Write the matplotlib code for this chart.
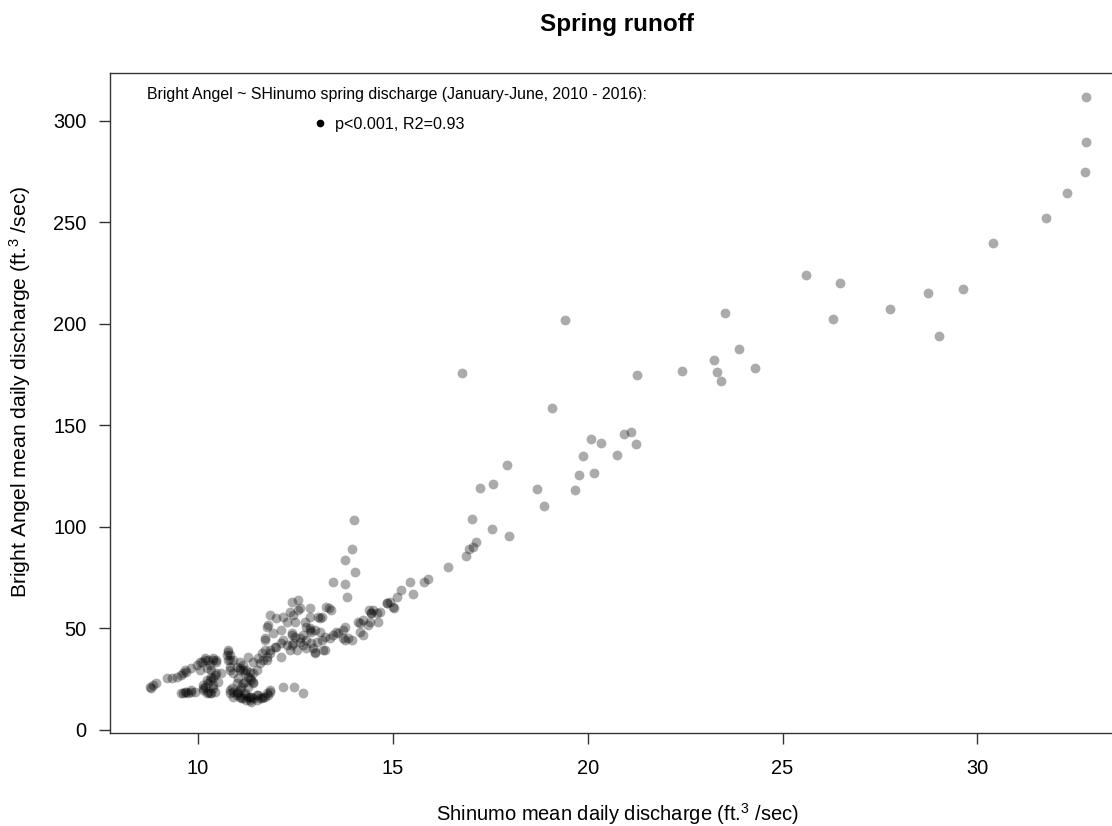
import matplotlib
matplotlib.use("Agg")
import matplotlib.pyplot as plt
from matplotlib.lines import Line2D

plt.rcParams['font.family'] = ['Liberation Sans', 'DejaVu Sans']
plt.rcParams['mathtext.fontset'] = 'custom'
plt.rcParams['mathtext.rm'] = 'Liberation Sans'
plt.rcParams['mathtext.it'] = 'Liberation Sans'

# Shinumo (x) vs Bright Angel (y) mean daily discharge, ft3/sec
# high-flow, sparse points
shinumo_high = [32.79, 32.79, 32.77, 32.30, 31.77, 30.39, 29.62, 28.74, 29.00, 25.60,
                26.48, 27.75, 26.28, 23.51, 23.88, 23.24, 23.31, 24.30, 23.41, 22.42,
                21.27, 16.77, 19.41, 19.09, 20.08, 20.34, 20.93, 21.11, 21.23, 19.87,
                20.74, 19.78, 20.16, 19.68, 18.69, 18.88, 17.93, 17.23, 17.56, 17.03,
                17.53, 17.99, 17.13, 17.06, 16.96, 16.87, 14.00, 13.96, 13.77, 14.03,
                13.47, 13.78, 13.82, 16.41, 15.45, 15.51, 15.79, 15.91, 15.20, 15.11,
                14.99, 14.86, 15.03, 14.84]
bright_high = [311.5, 289.3, 274.5, 264.3, 251.9, 239.6, 216.9, 214.9, 193.9, 223.8,
               220.0, 207.2, 202.1, 205.4, 187.6, 181.9, 176.2, 178.1, 171.7, 176.8,
               174.8, 175.5, 201.8, 158.3, 143.2, 141.2, 145.6, 146.5, 140.5, 134.8,
               135.4, 125.4, 126.6, 118.2, 118.4, 110.1, 130.3, 118.9, 120.8, 103.7,
               98.7, 95.5, 92.6, 90.1, 88.8, 85.5, 103.1, 89.1, 83.5, 77.6,
               72.7, 71.9, 65.2, 80.1, 72.7, 66.9, 72.6, 74.0, 68.6, 65.5,
               60.5, 62.2, 60.0, 62.2]

# mid cluster (12-15)
shinumo_mid = [14.39, 14.43, 14.58, 14.62, 14.24, 14.11, 14.37, 14.15, 14.24, 13.85,
               13.77, 13.94, 13.72, 13.55, 13.36, 13.29, 13.42, 13.14, 13.17, 12.87,
               12.87, 12.74, 12.78, 12.87, 12.57, 12.40, 12.57, 12.44, 12.48, 11.84,
               12.01, 12.18, 12.27, 12.14, 11.76, 14.45, 14.50, 14.67, 14.92, 14.41,
               14.15, 13.77, 13.72, 12.91, 13.25, 13.00, 12.78, 13.08, 12.61, 12.61,
               12.40, 11.97, 11.71, 12.40, 11.80, 12.36,
               12.40, 12.48, 12.61, 12.70, 12.78, 12.91, 13.04, 13.17, 13.25, 13.38,
               13.47, 13.60, 13.00, 13.12, 12.87, 12.44, 12.53, 12.70, 12.35, 12.14,
               12.01, 11.84, 11.71, 11.76, 12.95, 13.21, 13.00, 11.93, 12.18, 12.14,
               12.27]
bright_mid = [58.9, 57.3, 57.3, 53.2, 54.0, 53.2, 51.5, 48.2, 46.6, 45.0,
              44.1, 44.1, 49.1, 48.2, 59.8, 60.5, 58.9, 54.8, 55.6, 59.8,
              55.6, 53.2, 50.7, 49.1, 63.8, 63.0, 58.9, 56.5, 53.2, 56.5,
              54.8, 55.6, 53.2, 49.1, 50.7, 57.3, 58.9, 58.1, 63.0, 53.2,
              52.4, 50.7, 45.0, 48.2, 39.2, 38.4, 40.0, 55.6, 59.8, 43.3,
              41.7, 40.8, 45.0, 47.4, 51.5, 58.1,
              46.6, 45.8, 45.0, 46.6, 44.1, 42.5, 43.3, 44.1, 45.8, 45.0,
              46.6, 47.4, 49.1, 48.2, 49.9, 42.5, 39.2, 41.7, 39.2, 35.9,
              40.8, 39.2, 44.1, 34.3, 40.0, 39.2, 37.6, 47.4, 44.1, 42.5,
              41.7]

# low-flow cluster (8.7-12.7)
shinumo_low = [8.76, 8.85, 8.93, 8.80, 9.19, 9.32, 9.45, 9.57, 9.66, 9.62,
               9.70, 9.83, 9.96, 10.04, 10.09, 10.17, 10.17, 10.26, 10.39, 10.39,
               10.47, 10.47, 10.22, 10.30, 10.04, 10.34, 10.73, 10.77, 10.77, 10.81,
               10.77, 10.81, 10.90, 10.81, 10.99, 11.07, 11.16, 11.24, 11.33, 11.41,
               11.33, 11.41, 11.58, 11.67, 11.76, 11.84, 11.07, 11.20, 11.29, 11.37,
               11.41, 11.29, 11.16, 11.03, 10.90, 10.81, 11.41, 11.54, 11.63, 11.71,
               11.29, 11.16, 11.07, 11.50,
               9.57, 9.66, 9.74, 9.83, 9.92, 9.70, 9.62, 9.83, 10.13, 10.13,
               10.17, 10.26, 10.30, 10.39, 10.43, 10.47, 10.26, 10.34, 10.39, 10.22,
               10.13, 10.22, 10.34, 10.39, 10.30, 10.43, 10.52, 10.60,
               10.86, 10.81, 10.90, 10.99, 11.03, 11.07, 11.16, 11.20, 11.24, 11.29,
               11.33, 11.37, 11.41, 11.50, 11.54, 11.58, 11.67, 11.76, 11.80, 11.84,
               11.11, 10.99, 11.20, 10.81, 10.90, 10.99, 11.11, 11.37, 11.63, 11.71,
               11.84, 11.50, 11.33, 11.20, 11.07, 12.18, 12.47, 12.68]
bright_low = [21.1, 22.0, 22.8, 20.5, 25.3, 25.3, 26.1, 26.9, 29.4, 27.7,
              28.5, 30.2, 31.8, 33.4, 33.4, 34.3, 35.1, 34.3, 34.3, 35.1,
              33.4, 34.3, 30.2, 31.8, 29.4, 29.4, 36.7, 38.4, 39.2, 36.7,
              34.3, 34.3, 34.3, 31.0, 31.0, 30.2, 29.4, 29.4, 28.5, 27.7,
              25.3, 23.6, 32.7, 34.3, 35.9, 37.6, 29.4, 27.7, 26.1, 24.4,
              22.8, 21.1, 22.8, 25.3, 27.7, 29.4, 33.4, 35.1, 37.6, 39.2,
              35.9, 31.8, 33.4, 29.4,
              17.9, 18.7, 17.9, 18.7, 18.7, 18.7, 17.9, 19.5, 20.3, 19.5,
              21.1, 22.8, 24.4, 25.3, 26.9, 27.7, 18.7, 17.9, 20.3, 17.9,
              22.0, 24.4, 26.1, 22.0, 17.9, 18.7, 23.6, 27.7,
              20.3, 17.9, 18.7, 17.0, 18.7, 16.2, 15.4, 17.0, 14.6, 16.2,
              14.6, 16.2, 15.4, 14.6, 17.0, 15.4, 16.2, 17.9, 17.0, 18.7,
              21.1, 22.8, 23.6, 19.5, 16.2, 17.9, 15.4, 13.7, 15.4, 16.2,
              19.5, 17.0, 16.2, 17.9, 19.5, 21.1, 21.1, 17.9]

shinumo = shinumo_high + shinumo_mid + shinumo_low
bright_angel = bright_high + bright_mid + bright_low

x_ticks = [10, 15, 20, 25, 30]
y_ticks = [0, 50, 100, 150, 200, 250, 300]

W, H = 1112, 826
fig = plt.figure(figsize=(W / 100, H / 100), dpi=100)
ax = fig.add_axes([110 / W, (H - 732.7) / H, (1124 - 110) / W, (732.7 - 72.5) / H])

ax.scatter(shinumo, bright_angel, s=50, color='black', alpha=0.33, linewidths=0)

ax.set_xlim(7.74, 33.76)
ax.set_ylim(-1.5, 323.7)
ax.set_xticks(x_ticks)
ax.set_yticks(y_ticks)
ax.tick_params(direction='out', length=8, width=1, labelsize=14.4, color='#333333')
ax.tick_params(axis='x', pad=11)
ax.tick_params(axis='y', pad=9)
for sp in ax.spines.values():
    sp.set_color('#333333')
    sp.set_linewidth(1)

ax.set_xlabel('Shinumo mean daily discharge (ft.$^{3}$ /sec)', fontsize=14.5)
ax.xaxis.set_label_coords(0.5, (732.7 - 801) / 660.2)
ax.set_ylabel('Bright Angel mean daily discharge (ft.$^{3}$ /sec)', fontsize=15.2)
ax.yaxis.set_label_coords((33 - 110) / 1014, (732.7 - 392) / 660.2)

fig.text(617 / W, 1 - 24 / H, 'Spring runoff', ha='center', va='center',
         fontsize=17.5, fontweight='bold')

fig.text(397 / W, 1 - 95 / H,
         'Bright Angel ~ SHinumo spring discharge (January-June, 2010 - 2016):',
         ha='center', va='center', fontsize=11.4)
handle = Line2D([], [], marker='o', color='black', ls='', markersize=4.5)
ax.legend([handle], ['p<0.001, R2=0.93'], loc='center',
          bbox_to_anchor=(389 / W, 1 - 124 / H), bbox_transform=fig.transFigure,
          frameon=False, fontsize=11.6, borderpad=0, handlelength=0.8,
          handletextpad=0.5)

fig.savefig('out.png', dpi=100)
